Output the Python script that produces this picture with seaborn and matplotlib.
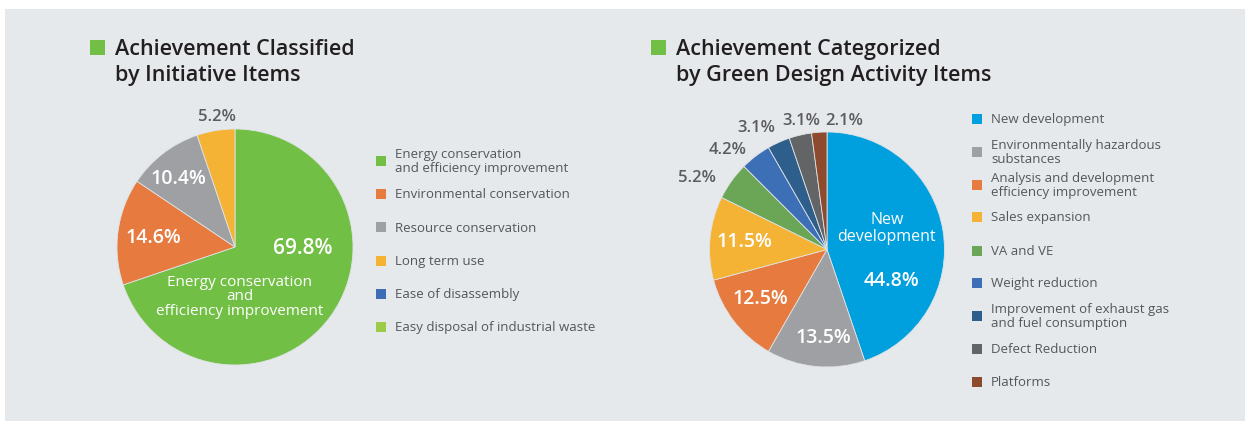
import matplotlib
matplotlib.use("Agg")
import matplotlib.pyplot as plt
import seaborn as sns
from matplotlib.patches import Rectangle

sns.set_theme(style="white")
plt.rcParams['font.family'] = ['Open Sans', 'DejaVu Sans']

# ---------------- data ----------------
init_title = "Achievement Classified\nby Initiative Items"
init_items = ["Energy conservation\nand efficiency improvement",
              "Environmental conservation",
              "Resource conservation",
              "Long term use",
              "Ease of disassembly",
              "Easy disposal of industrial waste"]
init_values = [69.8, 14.6, 10.4, 5.2, 0.0, 0.0]
init_colors = ["#71bf45", "#e77b3f", "#9fa0a3", "#f5b335", "#3c6db5", "#9ccb4a"]
init_main_label = "Energy conservation\nand\nefficiency improvement"

design_title = "Achievement Categorized\nby Green Design Activity Items"
design_items = ["New development",
                "Environmentally hazardous\nsubstances",
                "Analysis and development\nefficiency improvement",
                "Sales expansion",
                "VA and VE",
                "Weight reduction",
                "Improvement of exhaust gas\nand fuel consumption",
                "Defect Reduction",
                "Platforms"]
design_values = [44.8, 13.5, 12.5, 11.5, 5.2, 4.2, 3.1, 3.1, 2.1]
design_colors = ["#00a0df", "#9fa0a3", "#e77b3f", "#f5b335", "#6aa655",
                 "#3d6fb6", "#2e5e8c", "#636466", "#8d4a2c"]
design_main_label = "New\ndevelopment"

# ---------------- layout (pixels) ----------------
W, H = 1245, 421
BG = "#e6e9ec"
TITLE_C = "#231f20"
LEG_C = "#55565a"
OUT_C = "#5b5c5f"
MED = "semibold"

fig = plt.figure(figsize=(W / 100, H / 100), dpi=100)
fig.patch.set_facecolor("white")
fig.patches.append(Rectangle((5 / W, 0), 1 - 5 / W, 1 - 9 / H,
                             transform=fig.transFigure, facecolor=BG,
                             edgecolor="none", zorder=-10))


def fx(x):
    return x / W


def fy(y):
    return 1 - y / H


def title(x_sq, x_txt, text):
    fig.patches.append(Rectangle((fx(x_sq), fy(55)), 15 / W, 15 / H,
                                 transform=fig.transFigure,
                                 facecolor="#71bf45", edgecolor="none"))
    l1, l2 = text.split("\n")
    fig.text(fx(x_txt), fy(55), l1, fontsize=15.5, color=TITLE_C,
             va="baseline", fontweight=MED)
    fig.text(fx(x_txt), fy(81.5), l2, fontsize=15.5, color=TITLE_C,
             va="baseline", fontweight=MED)


def legend(x_sq, ys, items, colors):
    for y, lab, c in zip(ys, items, colors):
        fig.patches.append(Rectangle((fx(x_sq), fy(y + 5)), 10 / W, 10 / H,
                                     transform=fig.transFigure,
                                     facecolor=c, edgecolor="none"))
        fig.text(fx(x_sq + 19), fy(y + 0.5), lab, fontsize=9.5, color=LEG_C,
                 va="center", ha="left", linespacing=1.05)


def pie(cx, cy, r, values, colors):
    ax = fig.add_axes([fx(cx - r), fy(cy + r), 2 * r / W, 2 * r / H])
    ax.set_zorder(5)
    ax.patch.set_alpha(0)
    vals = [v for v in values if v > 0]
    cols = [c for v, c in zip(values, colors) if v > 0]
    ax.pie(vals, colors=cols, startangle=90, counterclock=False, radius=1,
           wedgeprops=dict(edgecolor="#dfe3e6", linewidth=0.6))
    ax.set_xlim(-1, 1)
    ax.set_ylim(-1, 1)
    ax.set_aspect("equal")
    ax.axis("off")
    return ax


# ---------------- left chart ----------------
title(90, 115, init_title)
axL = pie(235, 247, 118, init_values, init_colors)
left_lab_pos = [(0.57, -0.01), (-0.69, 0.08), (-0.48, 0.58), (-0.15, 1.10)]
left_lab_style = [("white", 15), ("white", 14), ("white", 14), (OUT_C, 12)]
for v, (px, py), (c, fs) in zip(init_values, left_lab_pos, left_lab_style):
    axL.text(px, py, f"{v:.1f}%", ha="center", va="center", color=c,
             fontsize=fs, fontweight=MED)
axL.text(0.04, -0.42, init_main_label, ha="center", va="center", color="white",
         fontsize=11, linespacing=0.95)
legend(376, [161, 194, 227.5, 260.5, 294, 327], init_items, init_colors)

# ---------------- right chart ----------------
title(651, 676, design_title)
axR = pie(827, 249.5, 117.5, design_values, design_colors)
right_lab_pos = [(0.55, -0.27), (-0.03, -0.75), (-0.57, -0.42), (-0.70, 0.06),
                 (-1.11, 0.61), (-0.85, 0.85), (-0.60, 1.03), (-0.22, 1.09),
                 (0.15, 1.09)]
right_lab_style = [("white", 14), ("white", 14), ("white", 14), ("white", 14),
                   (OUT_C, 12), (OUT_C, 12), (OUT_C, 12), (OUT_C, 12),
                   (OUT_C, 12)]
for v, (px, py), (c, fs) in zip(design_values, right_lab_pos, right_lab_style):
    axR.text(px, py, f"{v:.1f}%", ha="center", va="center", color=c,
             fontsize=fs, fontweight=MED)
axR.text(0.51, 0.18, design_main_label, ha="center", va="center", color="white",
         fontsize=11.5, linespacing=1.05)
legend(972, [119, 152, 185, 217, 251, 283, 316, 349, 382], design_items,
       design_colors)

fig.savefig("out.png", dpi=100, facecolor=fig.get_facecolor())
